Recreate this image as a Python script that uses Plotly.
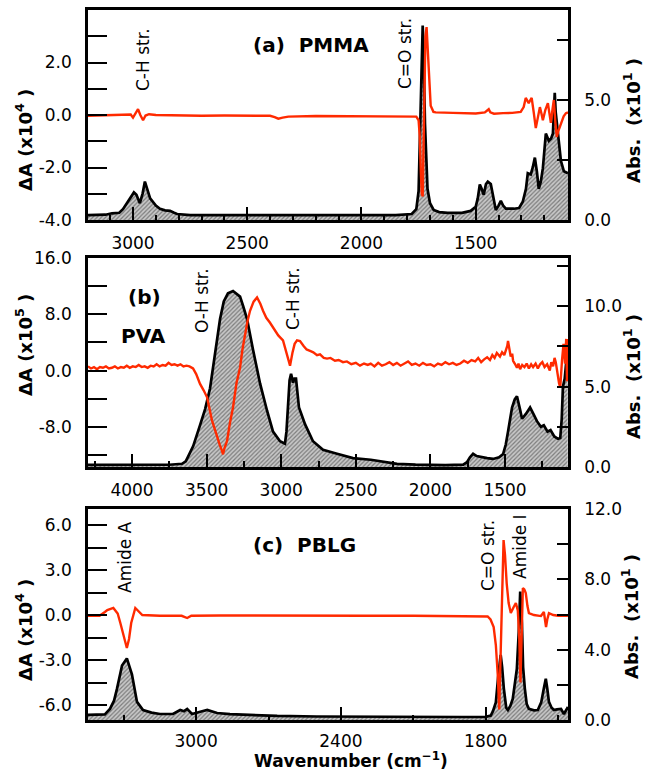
import plotly.graph_objects as go

W, H = 663, 773
FONT = "DejaVu Sans"
RED = "#ff2a00"

# ---------------- data (wavenumber, value) ----------------
# (a) PMMA : absorbance (right axis, x10^1) and difference spectrum (left axis, x10^4)
pmma_abs = [(3197, 0.2), (3120, 0.22), (3092, 0.28), (3060, 0.3), (3044, 0.45), (3020, 0.8),
            (2996, 1.15), (2985, 1.05), (2970, 0.7), (2958, 1.1), (2948, 1.6), (2935, 1.2),
            (2925, 0.9), (2900, 0.6), (2882, 0.47), (2860, 0.4), (2838, 0.38), (2820, 0.3),
            (2807, 0.25), (2750, 0.2), (2600, 0.2), (2400, 0.2), (2200, 0.18), (2000, 0.18),
            (1850, 0.2), (1780, 0.25), (1760, 0.45), (1750, 1.2), (1742, 4.0), (1736, 7.0),
            (1732, 8.1), (1728, 7.0), (1722, 4.0), (1711, 1.3), (1700, 0.7), (1684, 0.42),
            (1660, 0.33), (1623, 0.3), (1560, 0.3), (1522, 0.38), (1500, 0.55), (1491, 0.9),
            (1482, 1.48), (1474, 1.3), (1465, 1.05), (1455, 1.5), (1447, 1.6), (1434, 1.5),
            (1425, 1.0), (1412, 0.42), (1400, 0.6), (1390, 0.8), (1380, 0.6), (1368, 0.47),
            (1333, 0.47), (1310, 0.5), (1294, 0.76), (1280, 1.3), (1272, 1.95), (1259, 1.9),
            (1250, 2.2), (1241, 2.6), (1232, 2.0), (1224, 1.3), (1215, 1.6), (1206, 2.16),
            (1193, 3.6), (1180, 3.3), (1170, 3.4), (1162, 3.6), (1158, 4.5), (1154, 5.3),
            (1150, 4.5), (1140, 3.6), (1127, 2.46), (1114, 2.03), (1096, 1.95)]
pmma_dA = [(3197, -0.03), (3150, -0.02), (3100, -0.02), (3040, 0.0), (3010, 0.02), (3000, -0.1),
           (2990, 0.05), (2978, 0.22), (2968, 0.0), (2956, -0.2), (2945, -0.02), (2930, 0.03),
           (2900, 0.0), (2800, -0.02), (2700, -0.03), (2600, -0.02), (2500, -0.03), (2400, -0.03),
           (2380, -0.08), (2364, -0.14), (2345, -0.1), (2320, -0.06), (2200, -0.04), (2000, -0.05),
           (1900, -0.05), (1800, -0.05), (1760, -0.06), (1750, -0.2), (1745, -0.8), (1740, -2.2),
           (1736, -3.0), (1732, -3.1), (1728, -1.5), (1724, 1.0), (1720, 3.0), (1715, 3.35),
           (1710, 2.5), (1705, 1.2), (1697, 0.35), (1685, 0.12), (1675, 0.1), (1600, 0.08),
           (1500, 0.06), (1460, 0.1), (1450, 0.18), (1443, 0.22), (1436, 0.1), (1420, 0.05),
           (1380, 0.07), (1340, 0.08), (1303, 0.12), (1290, 0.3), (1281, 0.65), (1274, 0.55),
           (1268, 0.45), (1262, 0.55), (1255, 0.65), (1246, 0.1), (1237, -0.5), (1228, -0.1),
           (1219, 0.3), (1212, 0.05), (1206, -0.2), (1195, 0.2), (1184, 0.45), (1178, 0.1),
           (1171, -0.3), (1164, 0.2), (1158, 0.57), (1152, -0.2), (1145, -0.84), (1138, -0.6),
           (1127, -0.3), (1115, -0.05), (1105, 0.07), (1096, 0.1)]

# (b) PVA : absorbance (x10^1) and difference spectrum (x10^5)
pva_abs = [(4295, 0.13), (4100, 0.13), (3900, 0.13), (3750, 0.14), (3665, 0.2), (3640, 0.35),
           (3625, 0.63), (3590, 1.3), (3544, 2.6), (3510, 3.6), (3477, 4.9), (3445, 6.9),
           (3410, 9.2), (3385, 10.3), (3357, 10.8), (3323, 10.95), (3300, 10.8), (3276, 10.6),
           (3255, 10.0), (3229, 9.2), (3189, 7.3), (3142, 5.2), (3095, 3.5), (3055, 2.2),
           (3008, 1.6), (2975, 1.45), (2965, 2.2), (2954, 4.1), (2944, 5.4), (2934, 5.8),
           (2927, 5.4), (2921, 5.25), (2911, 5.5), (2901, 5.5), (2881, 3.7), (2840, 2.65),
           (2787, 1.6), (2720, 1.07), (2626, 0.82), (2519, 0.55), (2400, 0.45), (2224, 0.2),
           (2100, 0.15), (1900, 0.12), (1780, 0.15), (1755, 0.3), (1735, 0.6), (1714, 0.82),
           (1690, 0.68), (1668, 0.63), (1620, 0.55), (1580, 0.5), (1540, 0.6), (1513, 0.8),
           (1495, 1.4), (1480, 2.2), (1465, 3.0), (1453, 3.7), (1435, 4.2), (1420, 4.4),
           (1400, 3.6), (1386, 3.0), (1360, 3.3), (1332, 3.7), (1310, 3.3), (1286, 2.85),
           (1260, 2.5), (1240, 2.6), (1215, 2.2), (1195, 2.3), (1170, 1.9), (1145, 1.75),
           (1130, 1.8), (1120, 3.0), (1112, 5.0), (1100, 5.5), (1090, 6.5), (1080, 7.3)]
pva_dA = [(4295, 0.6), (4275, 0.3), (4255, 0.5), (4235, 0.2), (4215, 0.5), (4195, 0.4),
          (4175, 0.6), (4155, 0.3), (4135, 0.4), (4115, 0.6), (4095, 0.3), (4075, 0.5),
          (4055, 0.4), (4035, 0.7), (4015, 0.4), (3995, 0.6), (3975, 0.5), (3955, 0.8),
          (3935, 0.5), (3915, 0.6), (3895, 0.4), (3875, 0.7), (3855, 0.6), (3835, 0.9),
          (3815, 0.6), (3795, 0.8), (3775, 0.7), (3755, 1.1), (3735, 0.8), (3715, 0.9),
          (3695, 0.7), (3675, 0.9), (3655, 0.6), (3635, 0.7), (3615, 0.6), (3591, 0.3),
          (3570, -0.5), (3544, -1.9), (3520, -2.8), (3497, -3.8), (3480, -5.5), (3464, -7.1),
          (3447, -8.2), (3430, -9.5), (3413, -10.5), (3397, -11.4), (3390, -11.9), (3380, -11.0),
          (3363, -10.0), (3345, -7.6), (3323, -5.2), (3300, -1.8), (3276, 0.4), (3260, 3.0),
          (3243, 5.2), (3226, 7.0), (3209, 8.5), (3185, 9.8), (3162, 10.4), (3140, 9.5),
          (3122, 8.5), (3100, 7.5), (3075, 6.8), (3055, 6.1), (3020, 5.0), (2988, 4.3),
          (2965, 2.5), (2941, 0.7), (2925, 2.5), (2910, 3.8), (2894, 4.3), (2874, 4.2),
          (2850, 3.5), (2830, 3.0), (2807, 2.8), (2785, 2.6), (2760, 2.2), (2740, 2.3),
          (2715, 1.8), (2693, 1.7), (2670, 1.8), (2640, 1.4), (2615, 1.5), (2586, 1.2),
          (2560, 1.3), (2530, 0.9), (2500, 1.1), (2472, 0.7), (2445, 1.0), (2420, 0.8),
          (2400, 1.0), (2375, 0.6), (2350, 1.1), (2325, 0.7), (2300, 0.9), (2275, 1.2),
          (2250, 0.8), (2225, 1.1), (2200, 0.7), (2175, 1.0), (2150, 1.3), (2125, 0.8),
          (2100, 1.0), (2075, 0.7), (2050, 1.1), (2025, 0.8), (2000, 0.9), (1975, 0.6),
          (1950, 1.0), (1925, 0.8), (1900, 1.2), (1875, 0.9), (1850, 1.1), (1825, 0.8),
          (1800, 1.0), (1775, 1.4), (1750, 1.1), (1725, 1.5), (1700, 1.3), (1680, 1.8),
          (1660, 1.2), (1640, 1.6), (1620, 1.9), (1601, 1.5), (1585, 2.2), (1570, 1.8),
          (1555, 2.5), (1534, 2.0), (1520, 2.6), (1505, 2.2), (1495, 2.8), (1485, 3.5),
          (1480, 4.2), (1472, 3.2), (1462, 2.0), (1452, 2.4), (1446, 1.4), (1435, 1.0),
          (1420, 0.4), (1410, 1.0), (1399, 0.2), (1385, 0.8), (1370, 0.5), (1355, 1.0),
          (1340, 0.3), (1325, 0.9), (1312, 0.5), (1295, 1.0), (1280, 0.3), (1265, 0.9),
          (1250, 1.2), (1235, 0.5), (1218, 0.9), (1200, 0.0), (1190, 1.2), (1178, 0.6),
          (1168, 1.8), (1160, 1.2), (1152, 0.0), (1145, -0.5), (1138, -1.8), (1130, -2.4),
          (1124, 0.0), (1118, 1.5), (1108, 3.8), (1098, 1.0), (1090, 4.5), (1085, -1.5),
          (1080, 4.5)]

# (c) PBLG : absorbance (x10^1) and difference spectrum (x10^4)
pblg_abs = [(3448, 0.29), (3400, 0.29), (3378, 0.32), (3357, 0.63), (3340, 1.1), (3328, 1.77),
            (3307, 3.1), (3287, 3.5), (3266, 2.6), (3245, 1.03), (3220, 0.57), (3185, 0.42),
            (3150, 0.34), (3096, 0.34), (3075, 0.5), (3066, 0.57), (3050, 0.5), (3037, 0.63),
            (3017, 0.34), (2996, 0.4), (2975, 0.5), (2954, 0.57), (2930, 0.45), (2913, 0.4),
            (2860, 0.33), (2805, 0.29), (2664, 0.23), (2500, 0.2), (2300, 0.18), (2100, 0.17),
            (1900, 0.17), (1800, 0.18), (1779, 0.25), (1770, 0.5), (1758, 1.0), (1748, 2.5),
            (1738, 3.7), (1732, 3.0), (1725, 1.8), (1715, 0.7), (1708, 0.57), (1698, 0.8),
            (1688, 1.2), (1678, 2.2), (1671, 2.9), (1663, 5.0), (1657, 7.3), (1650, 5.5),
            (1645, 3.0), (1638, 1.8), (1630, 0.9), (1621, 0.63), (1600, 0.55), (1584, 0.57),
            (1570, 1.0), (1559, 1.8), (1551, 2.35), (1545, 1.8), (1538, 1.03), (1527, 0.7),
            (1517, 0.57), (1505, 0.6), (1488, 0.63), (1476, 0.34), (1468, 0.5), (1459, 0.74)]
pblg_dA = [(3448, -0.05), (3400, -0.05), (3378, 0.2), (3368, 0.33), (3343, 0.47), (3325, 0.1),
           (3314, -0.53), (3300, -1.5), (3287, -2.2), (3278, -1.6), (3269, -0.53), (3252, 0.47),
           (3240, 0.3), (3223, 0.0), (3150, -0.05), (3060, -0.05), (3037, -0.2), (3020, -0.05),
           (2900, -0.03), (2700, -0.05), (2500, -0.03), (2300, -0.05), (2100, -0.05), (1900, -0.05),
           (1810, -0.08), (1792, -0.1), (1780, -0.3), (1767, -0.8), (1758, -2.0), (1750, -4.0),
           (1744, -6.3), (1738, -3.0), (1732, 1.0), (1726, 5.0), (1720, 4.0), (1713, 2.1),
           (1705, 0.8), (1696, 0.13), (1685, 0.5), (1675, 0.8), (1667, 0.3), (1661, -1.5),
           (1656, -4.5), (1651, -1.0), (1646, 1.8), (1640, 1.7), (1634, 1.47), (1627, 0.6),
           (1621, 0.13), (1600, 0.0), (1571, -0.07), (1559, 0.2), (1553, -0.3), (1550, -0.8),
           (1545, -0.3), (1538, 0.13), (1520, 0.0), (1500, -0.05), (1480, -0.03), (1459, -0.05)]

# tick values / labels
pmma_x_ticks = [3000, 2500, 2000, 1500]
pva_x_ticks = [4000, 3500, 3000, 2500, 2000, 1500]
pblg_x_ticks = [3000, 2400, 1800]
pmma_dA_ticks = [-4.0, -2.0, 0.0, 2.0]
pva_dA_ticks = [-8.0, 0.0, 8.0, 16.0]
pblg_dA_ticks = [-6.0, -3.0, 0.0, 3.0, 6.0]
pmma_abs_ticks = [0.0, 5.0]
pva_abs_ticks = [0.0, 5.0, 10.0]
pblg_abs_ticks = [0.0, 4.0, 8.0, 12.0]


def split(pairs):
    return [p[0] for p in pairs], [p[1] for p in pairs]


def fmt(v):
    return f"{v:.1f}"


def fx(px):   # window pixel -> paper x
    return px / W


def fy(py):   # window pixel -> paper y
    return 1 - py / H


# ---------------- layout geometry (window pixels) ----------------
XL, XR = 88, 568
panels = [
    dict(abs=pmma_abs, dA=pmma_dA, top=10, bot=220, xr=[3197, 1096], xt=pmma_x_ticks,
         xminor=100, xminlen=5, absr=[0, 8.75], abst=pmma_abs_ticks, absminor=2.5,
         dar=[-4, 4], dat=pmma_dA_ticks, daminor=1.0, xstand=6),
    dict(abs=pva_abs, dA=pva_dA, top=258, bot=467, xr=[4295, 1078], xt=pva_x_ticks,
         xminor=250, xminlen=6, absr=[0, 13.0], abst=pva_abs_ticks, absminor=2.5,
         dar=[-13.7, 16], dat=pva_dA_ticks, daminor=4.0, xstand=6),
    dict(abs=pblg_abs, dA=pblg_dA, top=509, bot=720, xr=[3448, 1459], xt=pblg_x_ticks,
         xminor=300, xminlen=5, absr=[0, 12.0], abst=pblg_abs_ticks, absminor=2.0,
         dar=[-7, 7.07], dat=pblg_dA_ticks, daminor=1.5, xstand=4),
]

tickfont = dict(family=FONT, size=17, color="black")
fig = go.Figure()
layout = dict(width=W, height=H,
              margin=dict(l=0, r=0, t=0, b=0, pad=0, autoexpand=False),
              paper_bgcolor="white", plot_bgcolor="white", showlegend=False)

for i, p in enumerate(panels, start=1):
    xid = "x" if i == 1 else f"x{i}"
    ya = 2 * i - 1
    yb = 2 * i
    yaid = "y" if ya == 1 else f"y{ya}"
    ybid = f"y{yb}"
    ydom = [fy(p["bot"]), fy(p["top"])]

    xa, xv = split(p["abs"])
    fig.add_trace(go.Scatter(x=xa, y=xv, xaxis=xid, yaxis=yaid, mode="lines",
                             line=dict(color="black", width=2.7),
                             fill="tozeroy",
                             fillpattern=dict(shape="/", fgcolor="#303030", bgcolor="#c8c8c8",
                                              size=3, solidity=0.4)))
    xd, yd = split(p["dA"])
    fig.add_trace(go.Scatter(x=xd, y=yd, xaxis=xid, yaxis=ybid, mode="lines",
                             line=dict(color=RED, width=2.4)))

    layout["xaxis" if i == 1 else f"xaxis{i}"] = dict(
        domain=[fx(XL), fx(XR)], anchor=yaid, range=p["xr"], automargin=False,
        showline=True, mirror=True, linecolor="black", linewidth=2.5,
        ticks="inside", ticklen=13, tickwidth=2, tickcolor="black",
        tickmode="array", tickvals=p["xt"], ticktext=[str(v) for v in p["xt"]],
        minor=dict(ticks="inside", ticklen=p["xminlen"], tickwidth=1.5, tickcolor="black",
                   tickmode="linear", tick0=0, dtick=p["xminor"], showgrid=False),
        showgrid=False, zeroline=False, tickfont=tickfont, ticklabelstandoff=p["xstand"])
    layout["yaxis" if ya == 1 else f"yaxis{ya}"] = dict(
        domain=ydom, anchor=xid, side="right", range=p["absr"], automargin=False,
        showline=True, linecolor="black", linewidth=2.5,
        ticks="inside", ticklen=11, tickwidth=2, tickcolor="black",
        tickmode="array", tickvals=p["abst"], ticktext=[fmt(v) for v in p["abst"]],
        minor=dict(ticks="inside", ticklen=11, tickwidth=2, tickcolor="black",
                   tickmode="linear", tick0=0, dtick=p["absminor"], showgrid=False),
        showgrid=False, zeroline=False, tickfont=tickfont, ticklabelstandoff=10)
    layout[f"yaxis{yb}"] = dict(
        overlaying=yaid, anchor=xid, side="left", range=p["dar"], automargin=False,
        showline=True, linecolor="black", linewidth=2.5,
        ticks="inside", ticklen=19, tickwidth=2, tickcolor="black",
        tickmode="array", tickvals=p["dat"], ticktext=[fmt(v) for v in p["dat"]],
        minor=dict(ticks="inside", ticklen=19, tickwidth=2, tickcolor="black",
                   tickmode="linear", tick0=0, dtick=p["daminor"], showgrid=False),
        showgrid=False, zeroline=False, tickfont=tickfont, ticklabelstandoff=10)


def ann(text, px, py, size=17, angle=0, xanchor="center", yanchor="middle", bold=False):
    return dict(text=f"<b>{text}</b>" if bold else text, x=fx(px), y=fy(py),
                xref="paper", yref="paper", xanchor=xanchor, yanchor=yanchor,
                textangle=angle, showarrow=False,
                font=dict(family=FONT, size=size, color="black"))


annotations = [
    ann("C-H str.", 143, 60, angle=-90),
    ann("C=O str.", 405, 54, angle=-90),
    ann("(a)  PMMA", 251, 45, size=20, xanchor="left", bold=True),
    ann("(b)", 144, 297, size=20, bold=True),
    ann("PVA", 143, 336, size=20, bold=True),
    ann("O-H str.", 202, 300, angle=-90),
    ann("C-H str.", 293, 299, angle=-90),
    ann("Amide A", 125, 557, angle=-90),
    ann("(c)  PBLG", 251, 545, size=20, xanchor="left", bold=True),
    ann("C=O str.", 488, 556, angle=-90),
    ann("Amide I", 520, 547, angle=-90),
    # axis titles
    ann("ΔA (x10<sup>4</sup> )", 24, 140, size=18, angle=-90, bold=True),
    ann("ΔA (x10<sup>5</sup> )", 24, 345, size=18, angle=-90, bold=True),
    ann("ΔA (x10<sup>4</sup> )", 24, 630, size=18, angle=-90, bold=True),
    ann("Abs.  (x10<sup>1</sup> )", 632, 121, size=18, angle=-90, bold=True),
    ann("Abs.  (x10<sup>1</sup> )", 632, 377, size=18, angle=-90, bold=True),
    ann("Abs.  (x10<sup>1</sup> )", 630, 617, size=18, angle=-90, bold=True),
    ann("Wavenumber (cm<sup>−1</sup>)", 351, 773, size=17, yanchor="bottom", bold=True),
]
layout["annotations"] = annotations
fig.update_layout(**layout)
# remove the browser's default 8px page margin so the figure sits at the window's corner
fig.write_html("out.html", config={"displayModeBar": False},
               post_script="document.body.style.margin='0px';document.body.style.overflow='hidden';")
